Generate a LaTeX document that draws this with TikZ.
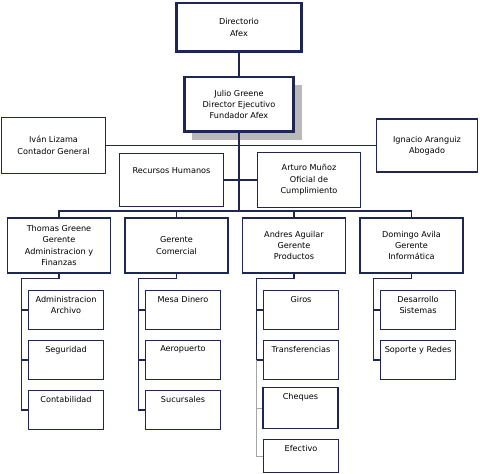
\documentclass[tikz,border=0pt]{standalone}
\usepackage{fontspec}
\setmainfont{DejaVu Sans}
\usetikzlibrary{shadows}
\definecolor{navy}{RGB}{30,38,84}
\definecolor{shade}{RGB}{185,185,185}

\begin{document}
\begin{tikzpicture}[x=0.75pt,y=-0.75pt,
  every node/.style={font=\fontsize{6.1}{8.6}\selectfont,align=center},
  org node/.style={rectangle,draw=navy,fill=white,line width=1.1pt,inner sep=1pt},
  top node/.style={org node,line width=2pt},
  mid node/.style={org node,minimum width=77.5pt,minimum height=41pt},
  sub node/.style={org node,minimum width=56.5pt,minimum height=29.5pt},
  sub text/.style={anchor=north,inner sep=0pt,yshift=-4.5pt},
  link/.style={draw=navy,line width=0.9pt},
  faint/.style={draw=gray!70,line width=0.5pt}]
  \useasboundingbox[fill=white] (0,0) rectangle (480,474);

  \node[top node,minimum width=94pt,minimum height=36.5pt] (dir) at (239,27.5) {Directorio\\Afex};
  \node[top node,minimum width=82pt,minimum height=41pt,
    drop shadow={shadow xshift=6pt,shadow yshift=-6pt,fill=shade,opacity=1}] (julio) at (239,104.5)
    {Julio Greene\\Director Ejecutivo\\Fundador Afex};
  \node[org node,minimum width=78pt,minimum height=42pt] (ivan) at (53.5,145.5) {Iván Lizama\\Contador General};
  \node[org node,minimum width=76pt,minimum height=40pt] (ignacio) at (427,145.5) {Ignacio Aranguiz\\Abogado};
  \node[org node,minimum width=78pt,minimum height=40pt,
    label={[anchor=north,inner sep=0pt,yshift=-11pt]north:Recursos Humanos}] (rrhh) at (171.5,180) {};
  \node[org node,minimum width=77pt,minimum height=41pt] (arturo) at (309,180) {Arturo Muñoz\\Oficial de\\Cumplimiento};
  \coordinate (bus) at (239,211);

  \node[mid node] (thomas) at (59,245.5) {Thomas Greene\\Gerente\\Administracion y\\Finanzas};
  \node[mid node] (comercial) at (176.5,245.5) {Gerente\\Comercial};
  \node[mid node] (andres) at (294,245.5) {Andres Aguilar\\Gerente\\Productos};
  \node[mid node] (domingo) at (411.5,245.5) {Domingo Avila\\Gerente\\Informática};

  \node[sub node,label={[sub text]north:Administracion\\Archivo}] (adm) at (66,310) {};
  \node[sub node,label={[sub text]north:Seguridad}] (seg) at (66,360) {};
  \node[sub node,label={[sub text]north:Contabilidad}] (contab) at (66,410) {};

  \node[sub node,label={[sub text]north:Mesa Dinero}] (mesa) at (183,310) {};
  \node[sub node,label={[sub text]north:Aeropuerto}] (aero) at (183,360) {};
  \node[sub node,label={[sub text]north:Sucursales}] (sucur) at (183,410) {};

  \node[sub node,label={[sub text]north:Giros}] (giros) at (301,310) {};
  \node[sub node,label={[sub text]north:Transferencias}] (trans) at (301,360) {};
  \node[sub node,minimum height=31pt,label={[sub text]north:Cheques}] (cheq) at (300.5,408) {};
  \node[sub node,minimum height=25pt,label={[sub text]north:Efectivo}] (efec) at (301,456) {};

  \node[sub node,label={[sub text]north:Desarrollo\\Sistemas}] (desa) at (418,310) {};
  \node[sub node,label={[sub text]north:Soporte y Redes}] (sopo) at (418,360) {};

  \draw[link] (dir) -- (julio);
  \draw[link] (julio) -- (bus);
  \draw[link] (ivan) -- (ignacio);
  \draw[link] (rrhh) -- (arturo);
  \draw[link] (thomas) |- (bus) -| (domingo);
  \draw[link] (comercial) -- (comercial |- bus);
  \draw[link] (andres) -- (andres |- bus);

  \draw[link] (thomas.south) -- ++(0,5) -| ([xshift=-4.5pt]contab.west) -- (contab.west);
  \foreach \n in {adm,seg}
    \draw[link] ([xshift=-4.5pt]\n.west) -- (\n.west);
  \draw[link] (comercial.south) -- ++(0,5) -| ([xshift=-4.5pt]sucur.west) -- (sucur.west);
  \foreach \n in {mesa,aero}
    \draw[link] ([xshift=-4.5pt]\n.west) -- (\n.west);
  \draw[link] (andres.south) -- ++(0,5) -| ([xshift=-4.5pt]trans.west) -- (trans.west);
  \draw[link] ([xshift=-4.5pt]giros.west) -- (giros.west);
  \draw[faint] ([xshift=-4.5pt]trans.west) |- (efec.west);
  \draw[faint] ([xshift=-4.5pt]trans.west |- cheq.west) -- (cheq.west);
  \draw[link] (domingo.south) -- ++(0,5) -| ([xshift=-4.5pt]sopo.west) -- (sopo.west);
  \draw[link] ([xshift=-4.5pt]desa.west) -- (desa.west);
\end{tikzpicture}
\end{document}
